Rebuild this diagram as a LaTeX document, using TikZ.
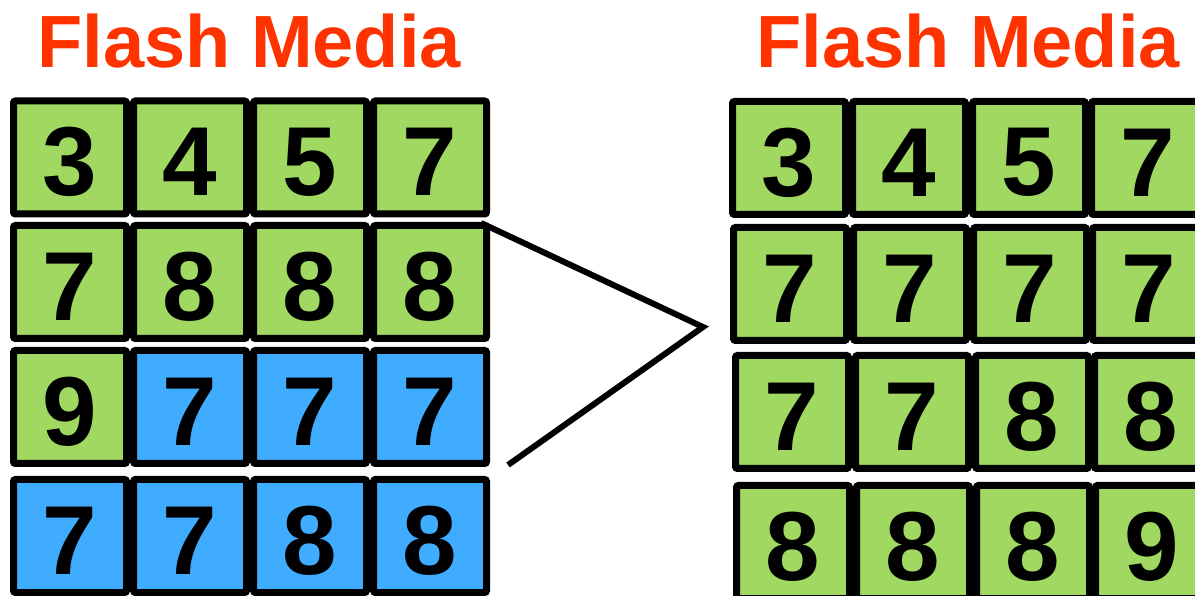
\documentclass[tikz,border=0pt]{standalone}
\usepackage{fontspec}
\setmainfont{Liberation Sans}
\definecolor{cellgreen}{RGB}{160,216,98}
\definecolor{cellblue}{RGB}{64,172,255}
\definecolor{titlered}{RGB}{255,51,0}
\begin{document}
\begin{tikzpicture}[x=1pt,y=1pt,
  digit/.style={font=\fontsize{98}{98}\selectfont\bfseries, inner sep=0pt, yshift=-4.5pt},
  cell/.style={draw=black, line width=7pt, rounded corners=2pt,
    minimum width=113pt, minimum height=113pt, inner sep=0pt,
    label={[digit]center:#1}},
  gcell/.style={cell=#1, fill=cellgreen},
  bcell/.style={cell=#1, fill=cellblue},
  title/.style={text=titlered, font=\fontsize{74}{74}\selectfont\bfseries, anchor=base, inner sep=0pt},
  wedge/.style={line width=6pt}]
\useasboundingbox (0,0) rectangle (1195,595);
% titles
\node[title] (tl) at (249,527) {Flash Media};
\node[title] (tr) at (968,527) {Flash Media};
% left grid
\node[gcell=3] (L11) at (70,437.5) {};
\node[gcell=4] (L12) at (190,437.5) {};
\node[gcell=5] (L13) at (310,437.5) {};
\node[gcell=7] (L14) at (430,437.5) {};
\node[gcell=7] (L21) at (70,313) {};
\node[gcell=8] (L22) at (190,313) {};
\node[gcell=8] (L23) at (310,313) {};
\node[gcell=8] (L24) at (430,313) {};
\node[gcell=9] (L31) at (70,188) {};
\node[bcell=7] (L32) at (190,188) {};
\node[bcell=7] (L33) at (310,188) {};
\node[bcell=7] (L34) at (430,188) {};
\node[bcell=7] (L41) at (70,59) {};
\node[bcell=7] (L42) at (190,59) {};
\node[bcell=8] (L43) at (310,59) {};
\node[bcell=8] (L44) at (430,59) {};
% right grid
\node[gcell=3] (R11) at (789,437) {};
\node[gcell=4] (R12) at (909,437) {};
\node[gcell=5] (R13) at (1029,437) {};
\node[gcell=7] (R14) at (1148,437) {};
\node[gcell=7] (R21) at (790,311) {};
\node[gcell=7] (R22) at (910,311) {};
\node[gcell=7] (R23) at (1030,311) {};
\node[gcell=7] (R24) at (1149,311) {};
\node[gcell=7] (R31) at (792,183) {};
\node[gcell=7] (R32) at (912,183) {};
\node[gcell=8] (R33) at (1032,183) {};
\node[gcell=8] (R34) at (1151,183) {};
\node[gcell=8] (R41) at (793,53) {};
\node[gcell=8] (R42) at (913,53) {};
\node[gcell=8] (R43) at (1033,53) {};
\node[gcell=9] (R44) at (1152,53) {};
% connector
\coordinate (apex) at (703,268);
\coordinate (wtop) at ([xshift=-9pt,yshift=-1pt]L24.north east);
\coordinate (wbot) at ([xshift=18pt,yshift=-58pt]L34.east);
\draw[wedge] (wtop) -- (apex) -- (wbot);
\end{tikzpicture}
\end{document}
